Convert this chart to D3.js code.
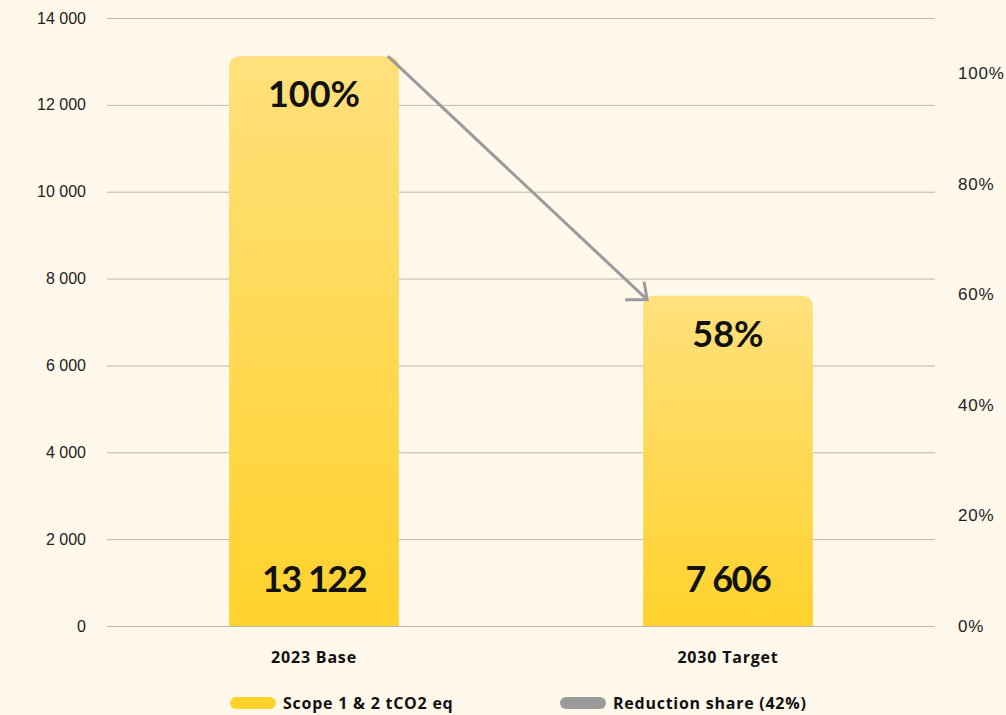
<!DOCTYPE html>
<html>
<head>
<meta charset="utf-8">
<script src="https://cdn.jsdelivr.net/npm/d3@7"></script>
<style>
  body { margin: 0; background: #fff8eb; }
  svg { display: block; font-family: Lato, "Open Sans", sans-serif; }
</style>
</head>
<body>
<script>
var categories = ['2023 Base', '2030 Target'];
var values = [13122, 7606];
var leftTicks = [0, 2000, 4000, 6000, 8000, 10000, 12000, 14000];
var rightTicks = [0, 20, 40, 60, 80, 100];
var legendLabels = ['Scope 1 & 2 tCO2 eq', 'Reduction share (42%)'];

var width = 1006, height = 715;
var margin = { top: 18, right: 71, bottom: 89, left: 107 };

var fmt = function(v) { return d3.format(',')(v).replace(/,/g, ' '); };

var svg = d3.select('body').append('svg')
	.attr('width', width)
	.attr('height', height);

var x = d3.scaleBand()
	.domain(categories)
	.range([margin.left, width - margin.right])
	.paddingInner(0.59)
	.paddingOuter(0.295);

var y = d3.scaleLinear()
	.domain([0, 14000])
	.range([height - margin.bottom, margin.top]);

var y2 = d3.scaleLinear()
	.domain([0, 110])
	.range([height - margin.bottom, margin.top]);

var defs = svg.append('defs');
var grad = defs.append('linearGradient')
	.attr('id', 'barGrad')
	.attr('x1', 0).attr('y1', 0).attr('x2', 0).attr('y2', 1);
grad.append('stop').attr('offset', '0%').attr('stop-color', '#ffe07c');
grad.append('stop').attr('offset', '100%').attr('stop-color', '#ffd22c');

// gridlines + left axis
svg.append('g')
	.attr('class', 'axis axis--y')
	.attr('transform', 'translate(' + margin.left + ',0)')
	.call(d3.axisLeft(y).tickValues(leftTicks).tickFormat(fmt)
		.tickSize(-(width - margin.left - margin.right)).tickPadding(21))
	.call(function(g) {
		g.select('.domain').remove();
		g.selectAll('line').attr('stroke', '#bcb8ae').attr('stroke-width', 1);
		g.selectAll('text').attr('fill', '#222').style('font-size', '16px').style('font-weight', 300);
	});

// right axis (percent)
svg.append('g')
	.attr('class', 'axis axis--y2')
	.attr('transform', 'translate(' + (width - margin.right) + ',0)')
	.call(d3.axisRight(y2).tickValues(rightTicks).tickFormat(function(d) { return d + '%'; })
		.tickSize(0).tickPadding(23))
	.call(function(g) {
		g.select('.domain').remove();
		g.selectAll('text').attr('fill', '#222').style('font-size', '17px')
			.style('font-weight', 300).style('letter-spacing', '0.8px');
	});

// bars with rounded top corners
function barPath(x0, y0, w, h, r) {
	return 'M' + x0 + ',' + (y0 + h) +
		'V' + (y0 + r) +
		'Q' + x0 + ',' + y0 + ' ' + (x0 + r) + ',' + y0 +
		'H' + (x0 + w - r) +
		'Q' + (x0 + w) + ',' + y0 + ' ' + (x0 + w) + ',' + (y0 + r) +
		'V' + (y0 + h) + 'Z';
}

svg.selectAll('.bar')
	.data(values)
	.enter().append('path')
		.attr('class', 'bar')
		.attr('fill', 'url(#barGrad)')
		.attr('d', function(d, i) {
			return barPath(x(categories[i]), y(d), x.bandwidth(), y(0) - y(d), 12);
		});

// share labels at top
svg.selectAll('.share')
	.data(values)
	.enter().append('text')
		.attr('class', 'share')
		.attr('x', function(d, i) { return x(categories[i]) + x.bandwidth() / 2; })
		.attr('y', function(d) { return y(d) + 51; })
		.attr('text-anchor', 'middle')
		.style('font-size', '36px')
		.style('font-weight', 700)
		.attr('fill', '#111')
		.text(function(d) { return Math.round(d / values[0] * 100) + '%'; });

// value labels at bottom
svg.selectAll('.val')
	.data(values)
	.enter().append('text')
		.attr('class', 'val')
		.attr('x', function(d, i) { return x(categories[i]) + x.bandwidth() / 2; })
		.attr('y', y(0) - 34)
		.attr('text-anchor', 'middle')
		.style('font-size', '36px')
		.style('font-weight', 700)
		.style('letter-spacing', '-1.5px')
		.attr('fill', '#111')
		.text(function(d) { return fmt(d); });

// category labels
svg.selectAll('.cat')
	.data(categories)
	.enter().append('text')
		.attr('class', 'cat')
		.attr('x', function(d) { return x(d) + x.bandwidth() / 2; })
		.attr('y', y(0) + 37)
		.attr('text-anchor', 'middle')
		.style('font-family', '"Open Sans", sans-serif')
		.style('font-size', '16px')
		.style('font-weight', 700)
		.style('letter-spacing', '0.8px')
		.attr('fill', '#111')
		.text(function(d) { return d; });

// reduction arrow
var x1 = x(categories[0]) + x.bandwidth() - 11, y1 = y(values[0]);
var x2 = x(categories[1]) + 4, y2a = y(values[1]) + 4;
svg.append('line')
	.attr('x1', x1).attr('y1', y1)
	.attr('x2', x2).attr('y2', y2a)
	.attr('stroke', '#9b9b9b')
	.attr('stroke-width', 3);
svg.append('path')
	.attr('d', 'M' + (x2 - 3) + ',' + (y2a - 18) + 'L' + x2 + ',' + y2a + 'L' + (x2 - 22) + ',' + y2a)
	.attr('fill', 'none')
	.attr('stroke', '#9b9b9b')
	.attr('stroke-width', 3);

// legend
var legendColors = ['#ffd22c', '#9b9b9b'];
var legendX = [230, 560];
var legend = svg.selectAll('.legend')
	.data(legendLabels)
	.enter().append('g')
		.attr('class', 'legend')
		.attr('transform', function(d, i) { return 'translate(' + legendX[i] + ',' + 703 + ')'; });
legend.append('rect')
	.attr('x', 0).attr('y', -6)
	.attr('width', 46).attr('height', 12)
	.attr('rx', 6)
	.attr('fill', function(d, i) { return legendColors[i]; });
legend.append('text')
	.attr('x', 53).attr('y', 6)
	.style('font-family', '"Open Sans", sans-serif')
	.style('font-size', '16px')
	.style('font-weight', 700)
	.style('letter-spacing', '0.75px')
	.attr('fill', '#111')
	.text(function(d) { return d; });
</script>
</body>
</html>
